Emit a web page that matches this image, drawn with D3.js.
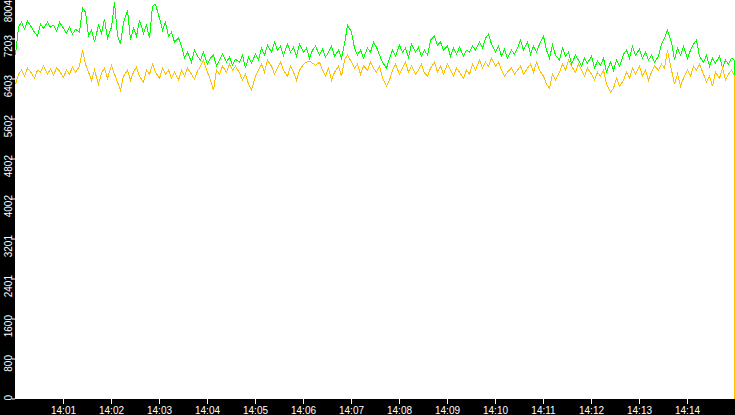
<!DOCTYPE html>
<html>
<head>
<meta charset="utf-8">
<script src="https://cdn.jsdelivr.net/npm/d3@7"></script>
<style>
  html, body { margin: 0; padding: 0; background: #fff; overflow: hidden; }
</style>
</head>
<body>
<div id="chart"></div>
<script>
// samples every 4 seconds from 14:00:00, then the last second
const startTime = '14:00:00.000'
const stepSeconds = 4

const greenValues = [
  6870, 7430, 7530, 7390, 7550, 7430, 7330, 7250, 7490, 7410, 7530, 7430, 7470, 7350, 7530, 7410,
  7310, 7430, 7290, 7390, 7330, 7810, 7730, 7250, 7370, 7130, 7470, 7310, 7590, 7210, 7430, 7930,
  7270, 7090, 7530, 7770, 7170, 7410, 7250, 7570, 7310, 7470, 7210, 7850, 7890, 7610, 7370, 7530,
  7250, 7330, 7130, 7210, 7050, 6810, 6930, 6730, 6970, 6850, 6770, 6930, 6690, 6810, 6870, 6650,
  6770, 6890, 6730, 6830, 6670, 6790, 6730, 6870, 6610, 6830, 6710, 6890, 6770, 7010, 6870, 7070,
  6930, 7130, 6970, 7050, 6870, 7090, 6930, 7030, 6850, 7090, 6930, 7010, 6810, 6970, 7050, 6870,
  6990, 6830, 6930, 7050, 6850, 6970, 6810, 7090, 7470, 7330, 7010, 6870, 6970, 6810, 7010, 6930,
  7130, 7030, 6870, 6730, 6610, 6810, 6970, 6850, 7070, 6930, 7010, 6830, 7090, 6930, 7030, 6850,
  6970, 6870, 7170, 7250, 7070, 7130, 6970, 7050, 6850, 7010, 6890, 7030, 6850, 6970, 6930, 7050,
  6970, 7130, 7010, 7210, 7290, 7090, 6930, 7050, 6850, 6990, 6810, 6970, 6890, 7010, 7170, 6970,
  7130, 6890, 7050, 6930, 7090, 7250, 6970, 6810, 7070, 6870, 6770, 7010, 6850, 6930, 6690, 6870,
  6770, 6650, 6810, 6710, 6850, 6610, 6750, 6670, 6810, 6530, 6730, 6570, 6770, 6650, 6890, 6970,
  6810, 7050, 6870, 6990, 6810, 6930, 6770, 6870, 6730, 6850, 7090, 7210, 7370, 7130, 6770, 7010,
  6870, 7050, 6810, 6970, 7090, 7170, 6850, 6730, 6870, 6650, 6810, 6710, 6850, 6610, 6770, 6690,
  6810
]

const orangeValues = [
  6290, 6490, 6570, 6450, 6610, 6510, 6410, 6570, 6530, 6650, 6490, 6590, 6470, 6610, 6550, 6430,
  6570, 6490, 6630, 6530, 6650, 6970, 6690, 6530, 6370, 6570, 6290, 6510, 6610, 6410, 6670, 6490,
  6330, 6170, 6450, 6570, 6370, 6530, 6630, 6450, 6330, 6570, 6490, 6690, 6530, 6410, 6610, 6490,
  6570, 6410, 6530, 6370, 6570, 6450, 6610, 6490, 6390, 6550, 6650, 6770, 6530, 6370, 6170, 6570,
  6490, 6650, 6530, 6690, 6570, 6650, 6510, 6370, 6490, 6290, 6170, 6450, 6570, 6690, 6530, 6770,
  6650, 6490, 6610, 6730, 6570, 6450, 6650, 6530, 6370, 6570, 6690, 6730, 6750, 6710, 6670, 6730,
  6570, 6450, 6610, 6370, 6530, 6650, 6450, 6770, 6870, 6730, 6610, 6690, 6490, 6650, 6570, 6730,
  6610, 6530, 6650, 6410, 6250, 6370, 6570, 6690, 6490, 6610, 6730, 6530, 6650, 6490, 6570, 6690,
  6510, 6450, 6610, 6730, 6530, 6650, 6490, 6690, 6570, 6450, 6610, 6530, 6410, 6570, 6490, 6690,
  6570, 6770, 6610, 6730, 6650, 6810, 6650, 6730, 6570, 6450, 6530, 6610, 6490, 6570, 6650, 6490,
  6610, 6690, 6530, 6730, 6570, 6450, 6290, 6210, 6490, 6370, 6530, 6690, 6570, 6770, 6650, 6530,
  6690, 6570, 6450, 6610, 6490, 6370, 6530, 6450, 6570, 6290, 6130, 6210, 6410, 6250, 6370, 6530,
  6410, 6610, 6490, 6650, 6450, 6570, 6370, 6530, 6650, 6570, 6690, 6610, 6970, 6570, 6290, 6490,
  6250, 6410, 6570, 6450, 6650, 6570, 6690, 6490, 6330, 6450, 6250, 6530, 6410, 6610, 6370, 6490,
  6570
]

// last two samples, where both series fall away
const tailTimes = ['14:14:59.000', '14:14:59.900']
const greenTail = [6770, 3330]
const orangeTail = [6450, 0]

const yTickValues = [0, 800, 1600, 2401, 3201, 4002, 4802, 5602, 6403, 7203, 8004]
const xTickLabels = ['14:01', '14:02', '14:03', '14:04', '14:05', '14:06', '14:07',
  '14:08', '14:09', '14:10', '14:11', '14:12', '14:13', '14:14']
const endTime = '14:15:00.000'

const width = 735, height = 415
const left = 15, bottom = 399

const parseTime = d3.timeParse('%H:%M:%S.%L')
const parseTick = d3.timeParse('%H:%M')
const t0 = parseTime(startTime)

const svg = d3.select('#chart')
  .append('svg')
  .attr('width', width)
  .attr('height', height)
  .style('display', 'block')
  .style('font-family', '"Liberation Sans", Arial, sans-serif')

// black frame on the left and bottom
svg.append('rect').attr('x', 0).attr('y', 0).attr('width', left).attr('height', height).attr('fill', '#000')
svg.append('rect').attr('x', 0).attr('y', bottom).attr('width', width).attr('height', height - bottom).attr('fill', '#000')

const x = d3.scaleTime()
  .domain([t0, parseTime(endTime)])
  .range([left, width])

const y = d3.scaleLinear()
  .domain([0, 8004])
  .range([bottom - 0.5, -1.5])

const toPoints = (vals, tail) => vals
  .map((v, i) => ({ time: new Date(+t0 + i * stepSeconds * 1000), value: v }))
  .concat(tail.map((v, i) => ({ time: parseTime(tailTimes[i]), value: v })))

// snap x to pixel columns so the aliased lines stay solid
const line = d3.line()
  .x((d) => Math.floor(x(d.time)) + 0.5)
  .y((d) => y(d.value))

const plot = svg.append('g')

plot.append('path')
  .datum(toPoints(greenValues, greenTail))
  .attr('d', line)
  .attr('fill', 'none')
  .attr('stroke', '#00ff00')
  .attr('stroke-width', 1)
  .attr('shape-rendering', 'crispEdges')

plot.append('path')
  .datum(toPoints(orangeValues, orangeTail))
  .attr('d', line)
  .attr('fill', 'none')
  .attr('stroke', '#ffc000')
  .attr('stroke-width', 1)
  .attr('shape-rendering', 'crispEdges')

// Y axis, labels turned sideways
const yAxis = svg.append('g')
  .attr('transform', `translate(${left},0)`)
  .call(d3.axisLeft(y).tickValues(yTickValues).tickSize(3).tickFormat(d3.format('d')))
yAxis.select('.domain').remove()
yAxis.selectAll('line').attr('stroke', '#fff')
yAxis.selectAll('text')
  .attr('fill', '#fff')
  .attr('font-size', '10px')
  .attr('text-anchor', 'end')
  .attr('transform', 'rotate(-90)')
  .attr('x', (d) => Math.min(4, y(d) + 0.5))
  .attr('y', -3)
  .attr('dy', 0)

// X axis
const xAxis = svg.append('g')
  .attr('transform', `translate(0,${bottom})`)
  .call(d3.axisBottom(x).tickValues(xTickLabels.map(parseTick)).tickSize(5).tickFormat(d3.timeFormat('%H:%M')))
xAxis.select('.domain').remove()
xAxis.selectAll('line').attr('stroke', '#fff')
xAxis.selectAll('text')
  .attr('fill', '#fff')
  .attr('font-size', '10px')
  .attr('y', 14.5)
  .attr('dy', 0)
</script>
</body>
</html>
